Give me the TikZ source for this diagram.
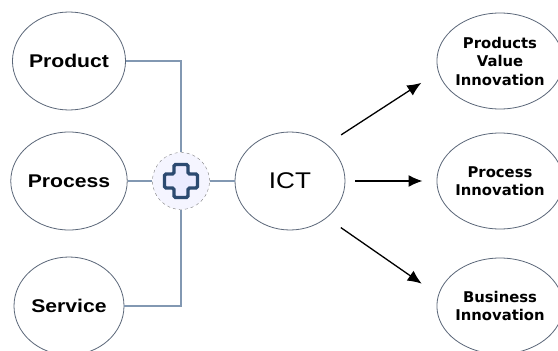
\documentclass[tikz,border=0pt]{standalone}
\usepackage{fontspec}
\setmainfont{Liberation Sans}
\newfontfamily\widefont[FakeStretch=1.15]{Liberation Sans}
\newfontfamily\outfont{DejaVu Sans}
\usetikzlibrary{shapes.geometric,arrows.meta}
\definecolor{rim}{HTML}{5A6678}
\definecolor{wire}{HTML}{8298B2}
\definecolor{navy}{HTML}{2C4A70}

\begin{document}
\begin{tikzpicture}[x=1pt,y=-1pt,
  bubble/.style={ellipse, draw=rim, line width=0.8pt, minimum width=110pt, minimum height=98pt, inner sep=0pt, align=center},
  inbub/.style={bubble, font=\widefont\bfseries\fontsize{18.4}{20}\selectfont},
  outbub/.style={bubble, minimum width=114pt, minimum height=96pt, font=\outfont\bfseries\fontsize{14.8}{18.5}\selectfont},
  wiring/.style={draw=wire, line width=1.2pt},
  arr/.style={-{Latex[length=14pt,width=12pt]}, line width=1.3pt}]
\useasboundingbox (0,0) rectangle (558,351);

% inputs
\node [inbub] (prod) at (69,61)  {Product};
\node [inbub] (proc) at (69,181) {Process};
\node [inbub] (serv) at (69,306) {Service};

% the plus
\node [circle, draw=gray, dashed, fill=blue!4, minimum size=57pt, inner sep=0pt] (plus) at (181,181) {};
\draw [navy, line width=3.2pt, fill=blue!8, rounded corners=1.5pt]
  (plus.center) ++(-7,-16.5) -- ++(14,0) -- ++(0,9.5) -- ++(9.5,0) -- ++(0,14) -- ++(-9.5,0)
  -- ++(0,9.5) -- ++(-14,0) -- ++(0,-9.5) -- ++(-9.5,0) -- ++(0,-14) -- ++(9.5,0) -- cycle;

\node [bubble, font=\widefont\fontsize{22.7}{24}\selectfont] (ict) at (290,181) {ICT};

% outputs
\node [outbub] (pvi) at (500,61)  {Products\\Value\\Innovation};
\node [outbub] (pin) at (500,181) {Process\\Innovation};
\node [outbub] (bin) at (500,306) {Business\\Innovation};

\draw [wiring] (prod.east) -| (plus.north);
\draw [wiring] (serv.east) -| (plus.south);
\draw [wiring] (proc) -- (plus);
\draw [wiring] (plus) -- (ict);

\draw [arr, shorten <=17pt, shorten >=20pt] (ict.45) -- (pvi.190);
\draw [arr, shorten <=10pt, shorten >=14pt] (ict) -- (pin);
\draw [arr, shorten <=17pt, shorten >=20pt] (ict.-45) -- (bin.170);
\end{tikzpicture}
\end{document}
